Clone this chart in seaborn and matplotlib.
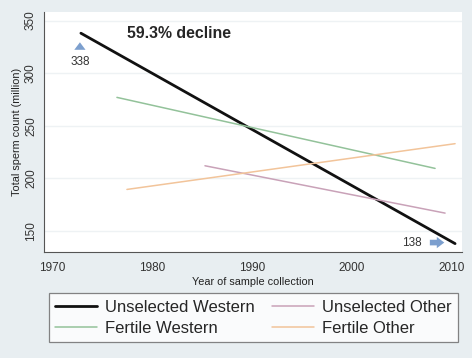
import pandas as pd
import matplotlib.pyplot as plt
import seaborn as sns

sns.set_style('white')
plt.rcParams['font.family'] = ['Liberation Sans', 'DejaVu Sans']

# fitted trend lines: start and end of each series
series = ['Unselected Western', 'Unselected Western',
          'Unselected Other', 'Unselected Other',
          'Fertile Western', 'Fertile Western',
          'Fertile Other', 'Fertile Other']
years = [1972.9, 2010.3, 1985.3, 2009.3, 1976.5, 2008.3, 1977.5, 2010.3]
counts = [338, 138, 212, 167, 277, 209.5, 189.5, 233]

df = pd.DataFrame({'series': series, 'year': years, 'count': counts})
order = ['Unselected Western', 'Fertile Western', 'Unselected Other', 'Fertile Other']
palette = {'Unselected Western': '#111111', 'Unselected Other': '#c9a2b8',
           'Fertile Western': '#93c29a', 'Fertile Other': '#f2c49a'}
widths = {'Unselected Western': 2.0, 'Unselected Other': 1.1,
          'Fertile Western': 1.1, 'Fertile Other': 1.1}

bg = '#e8eef1'
fig = plt.figure(figsize=(4.72, 3.58), dpi=100, facecolor=bg)
ax = fig.add_axes([0.093, 0.296, 0.886, 0.670])
ax.set_facecolor('white')

for name in order:
    sub = df[df['series'] == name]
    sns.lineplot(data=sub, x='year', y='count', color=palette[name],
                 linewidth=widths[name], label=name, ax=ax)

ax.set_xlim(1969.2, 2011)
ax.set_ylim(130, 358)
ax.set_xticks([1970, 1980, 1990, 2000, 2010])
ax.set_yticks([150, 200, 250, 300, 350])
ax.tick_params(axis='both', labelsize=8.5, colors='#333333', length=4,
               direction='out', pad=3)
ax.tick_params(axis='both', color='#777777')
ax.tick_params(axis='y', labelrotation=90, pad=1)
for lab in ax.get_yticklabels():
    lab.set_va('center')
ax.grid(axis='y', color='#eef2f4', linewidth=1)
for s in ['top', 'right']:
    ax.spines[s].set_visible(False)
for s in ['left', 'bottom']:
    ax.spines[s].set_color('#555555')
    ax.spines[s].set_linewidth(0.8)
ax.set_xlabel('Year of sample collection', fontsize=7.8, color='#222222', labelpad=2)
ax.set_ylabel('Total sperm count (million)', fontsize=7.8, color='#222222', labelpad=2)

ax.text(1977.5, 338, '59.3% decline', fontsize=11.4, fontweight='bold', va='center')
arrow_style = dict(arrowstyle='simple,head_width=0.9,head_length=0.6,tail_width=0.45',
                   mutation_scale=9, color='#7c9fce', lw=0)
ax.annotate('', xy=(1972.8, 332), xytext=(1972.8, 320), arrowprops=arrow_style)
ax.text(1972.8, 316, '338', fontsize=8.5, ha='center', va='top', color='#333333')
ax.annotate('', xy=(2009.5, 139), xytext=(2007.5, 139), arrowprops=arrow_style)
ax.text(2007.0, 139, '138', fontsize=8.5, ha='right', va='center', color='#333333')

ax.get_legend().remove()
handles, labels = ax.get_legend_handles_labels()
leg = fig.legend(handles, labels, ncol=2, loc='center',
                 fontsize=12, frameon=True,
                 fancybox=False, edgecolor='#666666', handlelength=2.5,
                 columnspacing=1.0, handletextpad=0.5, labelspacing=0.35,
                 borderpad=0.4, borderaxespad=0,
                 bbox_to_anchor=(0.537, 0.112),
                 bbox_transform=fig.transFigure)
leg.get_frame().set_linewidth(0.9)

plt.savefig('out.png', dpi=100, facecolor=bg)
